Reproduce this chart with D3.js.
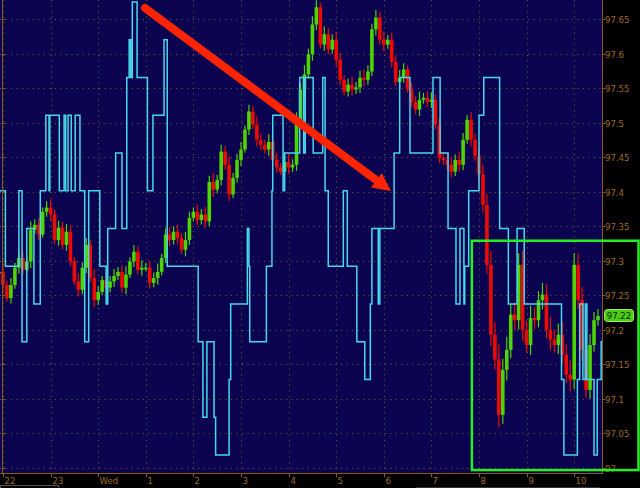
<!DOCTYPE html>
<html><head><meta charset="utf-8">
<script src="https://cdn.jsdelivr.net/npm/d3@7"></script>
<style>html,body{margin:0;padding:0;background:#000;}svg{display:block;}</style>
</head><body><svg id="c" width="640" height="488"></svg>
<script>
// ---------- data ----------
const hourTicks = [0,60,120,180,240,300,360,420,480,540,600,660,720]; // minutes since 22:00
const hourLabels = ["22","23","Wed","1","2","3","4","5","6","7","8","9","10"];
const priceTicks = [97,97.05,97.1,97.15,97.2,97.25,97.3,97.35,97.4,97.45,97.5,97.55,97.6,97.65];
const priceTickLabels = ["97","97.05","97.1","97.15","97.2","97.25","97.3","97.35","97.4","97.45","97.5","97.55","97.6","97.65"];
const barStart = -5, barInterval = 5; // 5-minute bars
const closes = [
97.284,97.265,97.246,97.265,97.290,97.304,97.287,97.299,97.345,97.352,97.338,97.371,97.377,97.367,97.330,97.348,97.323,97.342,
97.299,97.270,97.258,97.290,97.323,97.275,97.243,97.255,97.272,97.261,97.270,97.278,97.284,97.261,97.280,97.299,97.313,97.287,97.290,
97.290,97.268,97.275,97.284,97.304,97.338,97.330,97.342,97.333,97.316,97.330,97.362,97.371,97.359,97.367,97.357,97.414,97.403,97.417,
97.458,97.439,97.396,97.420,97.446,97.461,97.490,97.516,97.497,97.475,97.468,97.461,97.472,97.446,97.435,97.429,97.443,97.435,97.439,
97.504,97.548,97.570,97.599,97.642,97.667,97.613,97.628,97.606,97.620,97.591,97.562,97.545,97.555,97.548,97.551,97.565,97.562,97.574,
97.635,97.652,97.620,97.613,97.620,97.588,97.559,97.565,97.577,97.548,97.530,97.519,97.533,97.536,97.530,97.533,97.497,97.449,97.446,
97.439,97.429,97.446,97.439,97.475,97.504,97.475,97.452,97.425,97.381,97.294,97.193,97.157,97.077,97.142,97.171,97.222,97.214,
97.294,97.200,97.178,97.217,97.214,97.243,97.251,97.200,97.186,97.178,97.193,97.164,97.135,97.128,97.294,97.243,97.171,97.113,
97.178,97.214,97.220];
// extra wick length beyond the body, each bar (price units)
const wicks = [
.008,.012,.006,.010,.007,.011,.009,.005,.012,.008,.010,.006,.009,.012,.007,.010,.008,.011,
.009,.006,.012,.008,.010,.007,.013,.009,.006,.011,.008,.010,.007,.009,.012,.006,.010,.008,.011,
.007,.010,.008,.012,.006,.009,.011,.008,.010,.007,.012,.009,.006,.010,.008,.011,.009,.013,.007,
.010,.008,.012,.007,.009,.011,.006,.010,.008,.012,.009,.007,.011,.008,.010,.006,.009,.012,.008,
.011,.009,.013,.008,.012,.010,.007,.011,.009,.008,.012,.010,.007,.009,.011,.008,.010,.012,.009,
.008,.011,.009,.012,.007,.010,.008,.011,.009,.006,.010,.008,.012,.007,.009,.011,.008,.010,.009,
.009,.011,.008,.012,.010,.007,.011,.009,.012,.014,.016,.020,.018,.022,.016,.019,.015,.018,
.017,.020,.014,.018,.016,.013,.017,.015,.019,.014,.016,.018,.015,.021,.017,.016,.019,.014,
.016,.012,.010];
const lastPrice = 97.22;
// stepped indicator: change times (minutes) and levels (0..12)
const indTimes = [-4,3,20,24,30,39,47,54,58,59,71,77,79,82,86,91,97,103,108,122,130,132,142,150,156,159,161,163,169,182,189,203,207,246,252,257,266,268,285,287,308,310,311,332,339,340,353,355,374,379,381,391,403,406,410,429,434,446,456,463,465,473,475,493,500,513,542,551,561,571,576,581,582,587,600,606,626,637,648,657,704,707,724,727,731,734,736,745,749,754,756];
const indLevels = [7,5,7,3,6,4,7,9,7,9,7,9,7,9,7,9,7,3,7,5,4,6,8,6,10,11,10,12,10,7,9,11,5,3,1,3,1,0,2,4,6,5,3,5,7,9,7,8,10,8,10,8,10,7,5,7,5,3,2,4,6,4,6,8,10,8,10,8,6,4,6,4,5,7,9,10,6,4,6,4,2,0,2,4,2,4,2,0,2,3,3];
const arrowFrom = {t:179, p:97.666};
const arrowTo = {t:489, p:97.401};
const boxFrom = {t:591, p:97.329};
const boxBottomPrice = 96.997;

// ---------- layout ----------
const W = 640, H = 488;
const plotL = 0, plotR = 602, plotT = 0, plotB = 473;
const svg = d3.select("#c");
const x = d3.scaleLinear().domain([0, 720]).range([3, 574.2]);
const y = d3.scaleLinear().domain([97, 97.65]).range([468, 19]);
const yi = d3.scaleLinear().domain([0, 12]).range([455, 2]);

const axisCol = "#8a5a18", textCol = "#a06c1c", gridCol = "#7a5a38";
svg.append("rect").attr("width", W).attr("height", H).attr("fill", "#000");
svg.append("rect").attr("x", plotL).attr("y", plotT).attr("width", plotR - plotL).attr("height", plotB - plotT).attr("fill", "#0b0250");

svg.append("defs").append("clipPath").attr("id", "clip")
  .append("rect").attr("x", plotL).attr("y", plotT).attr("width", plotR - plotL).attr("height", plotB - plotT);

// grid
const grid = svg.append("g");
grid.selectAll(".hg").data(priceTicks).enter().append("line")
  .attr("x1", plotL).attr("x2", plotR).attr("y1", d => Math.round(y(d)) + 0.5).attr("y2", d => Math.round(y(d)) + 0.5)
  .attr("stroke", gridCol).attr("stroke-width", 1).attr("stroke-dasharray", "1,4.5");
grid.selectAll(".vg").data(hourTicks).enter().append("line")
  .attr("x1", d => Math.round(x(d)) + 0.5).attr("x2", d => Math.round(x(d)) + 0.5).attr("y1", plotT).attr("y2", plotB)
  .attr("stroke", gridCol).attr("stroke-width", 1).attr("stroke-dasharray", "1,4.5");

const plot = svg.append("g").attr("clip-path", "url(#clip)");

// candles
const bars = closes.map((c, i) => {
  const o = i > 0 ? closes[i - 1] : c;
  return {t: barStart + i * barInterval, o: o, c: c,
          h: Math.max(o, c) + wicks[i], l: Math.min(o, c) - wicks[i] * 0.8};
});
const col = d => d.c >= d.o ? "#4ed400" : "#ee0a00";
plot.selectAll(".wick").data(bars).enter().append("line")
  .attr("x1", d => x(d.t)).attr("x2", d => x(d.t))
  .attr("y1", d => y(d.h)).attr("y2", d => y(d.l))
  .attr("stroke", col).attr("stroke-width", 1.2);
plot.selectAll(".bar").data(bars).enter().append("rect")
  .attr("x", d => x(d.t) - 1.8).attr("width", 3.6)
  .attr("y", d => y(Math.max(d.o, d.c)))
  .attr("height", d => Math.max(1.5, Math.abs(y(d.o) - y(d.c))))
  .attr("fill", col);

// indicator step line
const ind = indTimes.map((t, i) => [t, indLevels[i]]);
plot.append("path").datum(ind)
  .attr("d", d3.line().x(d => x(d[0])).y(d => yi(d[1])).curve(d3.curveStepAfter))
  .attr("fill", "none").attr("stroke", "#48d8ec").attr("stroke-width", 1.5).attr("stroke-linejoin", "miter");

// axes lines
svg.append("line").attr("x1", plotR + 0.5).attr("x2", plotR + 0.5).attr("y1", 0).attr("y2", plotB).attr("stroke", axisCol);
svg.append("line").attr("x1", 2.5).attr("x2", 2.5).attr("y1", 0).attr("y2", plotB).attr("stroke", axisCol);
svg.append("line").attr("x1", 0).attr("x2", plotR + 1).attr("y1", plotB + 0.5).attr("y2", plotB + 0.5).attr("stroke", axisCol);

// right axis ticks/labels
const ra = svg.append("g");
priceTicks.forEach((p, i) => {
  const yy = Math.round(y(p)) + 0.5;
  ra.append("line").attr("x1", plotR).attr("x2", plotR + 3).attr("y1", yy).attr("y2", yy).attr("stroke", axisCol);
  ra.append("line").attr("x1", 2).attr("x2", 5).attr("y1", yy).attr("y2", yy).attr("stroke", axisCol);
  ra.append("text").attr("x", plotR + 3).attr("y", yy + 3.2).text(priceTickLabels[i])
    .attr("fill", textCol).attr("font-family", "DejaVu Sans").attr("font-size", "8.5px");
});
// bottom axis
hourTicks.forEach((m, i) => {
  const xx = Math.round(x(m)) + 0.5;
  svg.append("line").attr("x1", xx).attr("x2", xx).attr("y1", plotB).attr("y2", plotB + 4).attr("stroke", axisCol);
  svg.append("text").attr("x", xx + 1).attr("y", 483.5).text(hourLabels[i])
    .attr("fill", textCol).attr("font-family", "DejaVu Sans").attr("font-size", "8.5px");
});

// red arrow
const ax0 = x(arrowFrom.t), ay0 = y(arrowFrom.p), ax1 = x(arrowTo.t), ay1 = y(arrowTo.p);
const dx = ax1 - ax0, dy = ay1 - ay0, len = Math.hypot(dx, dy), ux = dx / len, uy = dy / len;
const headL = 18, headW = 9;
const bx = ax1 - ux * headL, by = ay1 - uy * headL;
svg.append("line").attr("x1", ax0).attr("y1", ay0).attr("x2", bx + ux * 2).attr("y2", by + uy * 2)
  .attr("stroke", "#ff2400").attr("stroke-width", 8).attr("stroke-linecap", "round");
svg.append("polygon").attr("points", [[ax1, ay1], [bx - uy * headW, by + ux * headW], [bx + uy * headW, by - ux * headW]].map(p => p.join(",")).join(" "))
  .attr("fill", "#ff2400");

// green highlight box
const gx = x(boxFrom.t), gy = y(boxFrom.p), gb = y(boxBottomPrice);
svg.append("rect").attr("x", gx).attr("y", gy).attr("width", W - 1.5 - gx).attr("height", gb - gy)
  .attr("fill", "none").attr("stroke", "#22ee22").attr("stroke-width", 2.5);

// last price label
const ly = y(lastPrice);
svg.append("rect").attr("x", 604.5).attr("y", ly - 6.5).attr("width", 29).attr("height", 12).attr("rx", 3)
  .attr("fill", "#4ccc14").attr("stroke", "#9cf060").attr("stroke-width", 1);
svg.append("text").attr("x", 619).attr("y", ly + 3.2).attr("text-anchor", "middle").text(lastPrice.toFixed(2))
  .attr("fill", "#0a2a00").attr("font-family", "DejaVu Sans").attr("font-size", "8.5px");

// bottom scrollbar remnants
svg.append("rect").attr("x", 0.5).attr("y", 485.5).attr("width", 58).attr("height", 4).attr("fill", "none").attr("stroke", "#555");
svg.append("line").attr("x1", 416).attr("x2", 600).attr("y1", 487.5).attr("y2", 487.5).attr("stroke", "#333");
</script></body></html>
